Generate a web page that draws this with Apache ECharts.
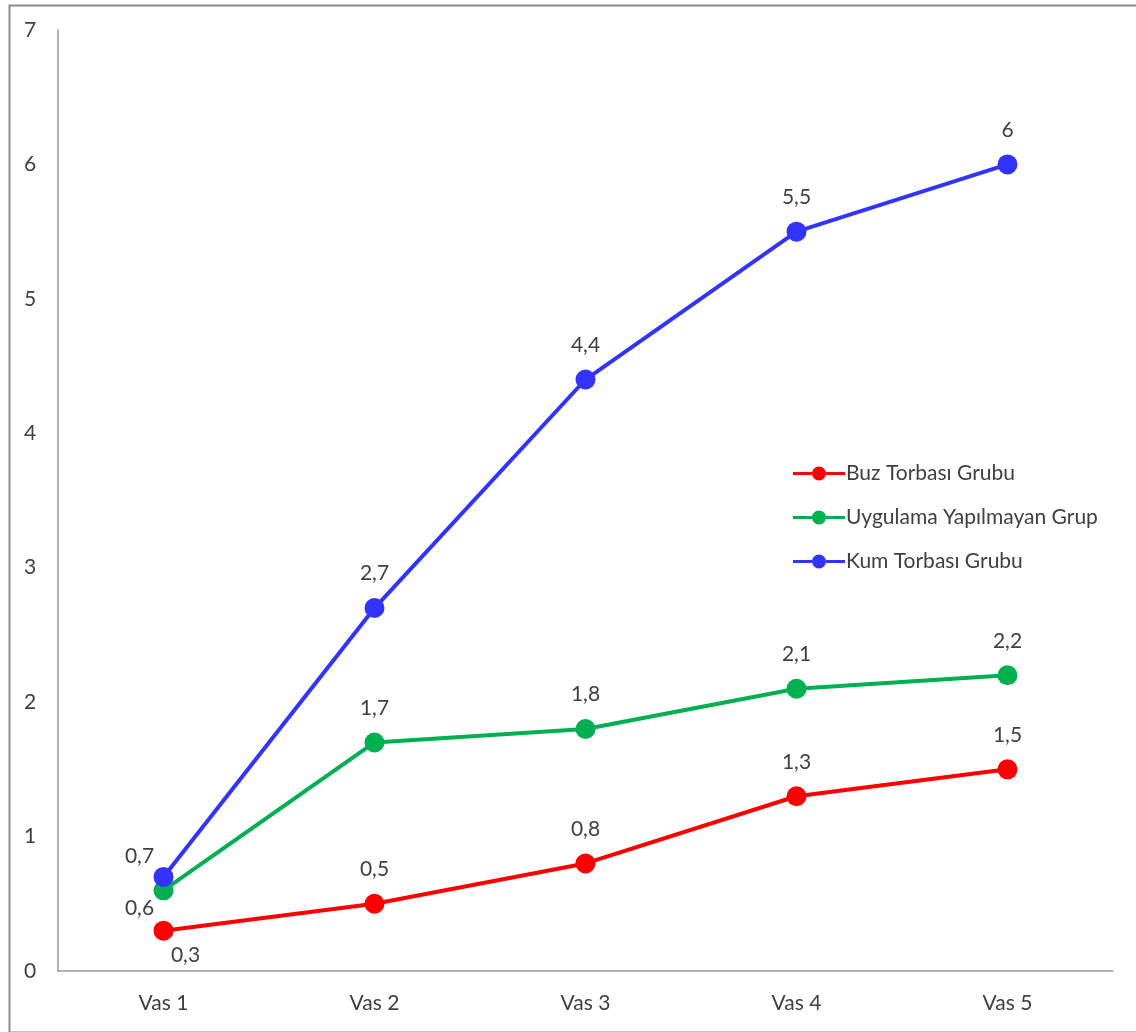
<!DOCTYPE html>
<html><head><meta charset="utf-8">
<script src="https://cdn.jsdelivr.net/npm/echarts@6/dist/echarts.min.js"></script>
<style>html,body{margin:0;padding:0;background:#fff}#c{width:1136px;height:1032px}</style>
</head><body><div id="c"></div>
<script>
var categories = ['Vas 1','Vas 2','Vas 3','Vas 4','Vas 5'];
var buzValues = [0.3, 0.5, 0.8, 1.3, 1.5];
var uygValues = [0.6, 1.7, 1.8, 2.1, 2.2];
var kumValues = [0.7, 2.7, 4.4, 5.5, 6];
var seriesNames = ['Buz Torbası Grubu','Uygulama Yapılmayan Grup','Kum Torbası Grubu'];
var yTicks = [0,1,2,3,4,5,6,7];

var font = 'Lato, "Open Sans", sans-serif';
var txt = '#404040';
var legendIcon = 'path://M0,6.5L19,6.5L19,9.5L0,9.5Z M19,8A7,7 0 1 1 33,8A7,7 0 1 1 19,8Z M33,6.5L52,6.5L52,9.5L33,9.5Z';
function fmt(v){ return String(v).replace('.', ','); }
function mk(name, vals, color, firstPos, firstOffset){
  return {
    name: name, type: 'line', data: vals.map(function(v,i){
      var d = {value: v};
      if (i === 0) d.label = {position: firstPos, offset: firstOffset};
      return d;
    }),
    symbol: 'circle', symbolSize: 20,
    lineStyle: {color: color, width: 4},
    itemStyle: {color: color},
    label: {show: true, position: 'top', distance: 14, color: txt, fontSize: 21, fontFamily: font,
      formatter: function(p){ return fmt(p.value); }},
    z: 3
  };
}
var chart = echarts.init(document.getElementById('c'));
chart.setOption({
  animation: false,
  backgroundColor: '#fff',
  graphic: [{type:'rect', left: 7, top: 3, shape:{width: 1140, height: 1027}, style:{fill:'none', stroke:'#8c8c8c', lineWidth: 2}, silent:true}],
  grid: {left: 58, right: 23, top: 30, bottom: 61},
  legend: {
    orient: 'vertical', left: 788, top: 458, itemGap: 23, itemWidth: 52, itemHeight: 16,
    icon: legendIcon,
    textStyle: {color: txt, fontSize: 21, fontFamily: font, padding: [0,0,0,-4]},
    data: seriesNames.map(function(n){ return {name: n, icon: legendIcon}; })
  },
  xAxis: {
    type: 'category', data: categories, boundaryGap: true,
    axisLine: {lineStyle: {color: '#9a9a9a', width: 1.5}},
    axisTick: {show: false},
    axisLabel: {color: txt, fontSize: 21, fontFamily: font, margin: 22}
  },
  yAxis: {
    type: 'value', min: 0, max: 7, interval: 1,
    axisLine: {show: true, lineStyle: {color: '#9a9a9a', width: 1.5}},
    axisTick: {show: false},
    splitLine: {show: false},
    axisLabel: {color: txt, fontSize: 21, fontFamily: font, margin: 28, align: 'center',
      formatter: function(v){ return yTicks.indexOf(v) >= 0 ? String(v) : ''; }}
  },
  series: [
    mk(seriesNames[0], buzValues, '#ff0000', 'bottom', [22, -10]),
    mk(seriesNames[1], uygValues, '#00b050', 'bottom', [-24, -17]),
    mk(seriesNames[2], kumValues, '#3333ff', 'top', [-24, 14])
  ]
});
</script></body></html>
